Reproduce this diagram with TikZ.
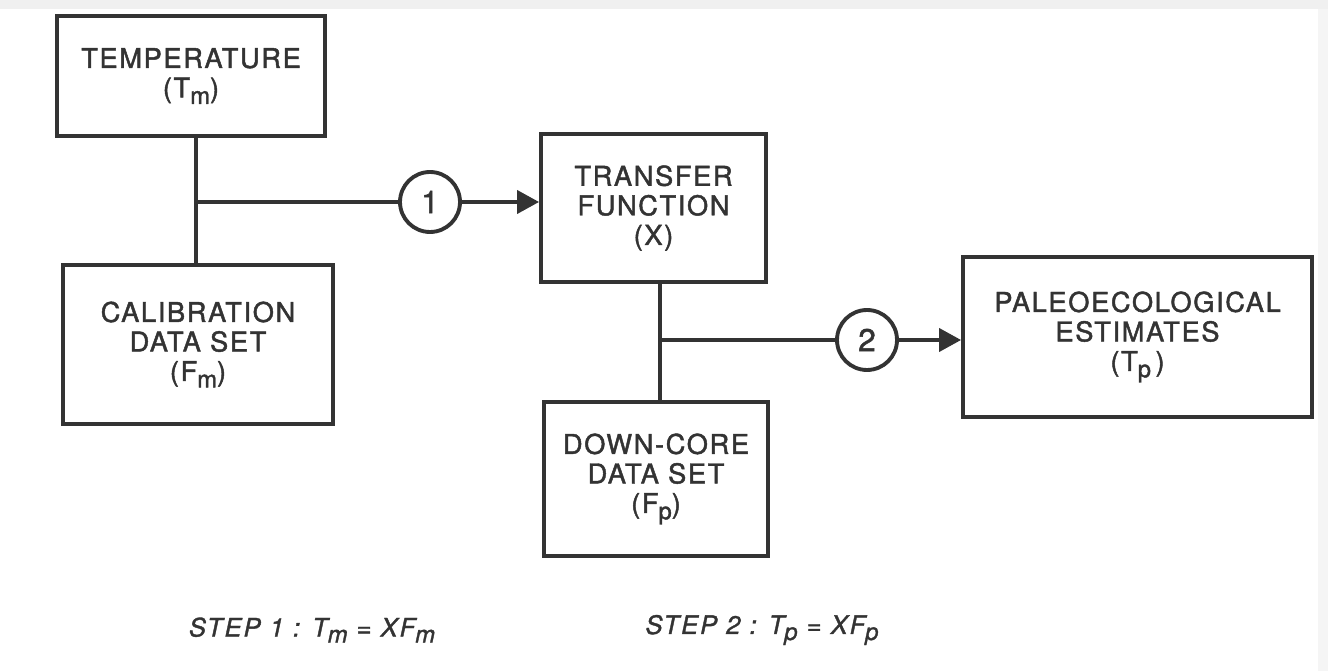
\documentclass[tikz,border=0pt]{standalone}
\usepackage{fontspec}
\setmainfont{TeX Gyre Heros}
\newfontfamily\boxfont{TeX Gyre Heros}[LetterSpace=6, FakeBold=1.6]
\newfontfamily\stepfont{TeX Gyre Heros}[LetterSpace=8, FakeBold=1.4]
\usetikzlibrary{arrows.meta, positioning}

\definecolor{ink}{gray}{0.2}
\newcommand\lowsub[1]{\raisebox{-0.45ex}{\fontsize{13.5}{13.5}\selectfont #1}}

\begin{document}
\begin{tikzpicture}[
    x=0.02cm, y=-0.02cm,
    box/.style={
        rectangle,
        draw=ink,
        line width=2.2pt,
        fill=white,
        text=ink,
        align=center,
        font=\boxfont\fontsize{15.5}{16.8}\selectfont,
        inner sep=2pt
    },
    stepnum/.style={
        circle,
        draw=ink,
        line width=2.2pt,
        fill=white,
        text=ink,
        minimum size=1.2cm,
        font=\boxfont\fontsize{18}{18}\selectfont,
        inner sep=0pt
    },
    link/.style={
        draw=ink,
        line width=2.2pt
    },
    arrow/.style={
        link,
        -{Triangle[length=0.44cm, width=0.46cm]}
    },
    eqn/.style={
        text=ink,
        font=\stepfont\itshape\fontsize{14.5}{16}\selectfont
    }
]
\useasboundingbox (0,0) rectangle (1328,671);
\fill[gray!12] (0,0) rectangle (1328,9);
\fill[gray!8] (1318,9) rectangle (1328,671);

% boxes
\node[box, minimum width=5.36cm, minimum height=2.4cm] (temp) at (191,76)
    {TEMPERATURE\\(T\lowsub{m})};
\node[box, minimum width=5.4cm, minimum height=3.18cm] (calib) at (198,344.5)
    {CALIBRATION\\DATA SET\\(F\lowsub{m})};
\node[box, minimum width=4.5cm, minimum height=2.96cm] (transfer) at (653.5,208)
    {TRANSFER\\FUNCTION\\(X)};
\node[box, minimum width=4.48cm, minimum height=3.08cm] (downcore) at (656,479)
    {DOWN-CORE\\DATA SET\\(F\lowsub{p})};
\node[box, minimum width=6.98cm, minimum height=3.2cm] (paleo) at (1137.5,337)
    {PALEOECOLOGICAL\\ESTIMATES\\(T\lowsub{p}\,)};

% numbered steps
\node[stepnum] (c1) at (430,202) {1};
\node[stepnum] (c2) at (867,340) {2};

\coordinate (j1) at (196,202);
\coordinate (j2) at (660,340);

% connectors
\draw[link] (temp.south -| j1) -- (calib.north -| j1);
\draw[link] (j1) -- (c1);
\draw[arrow] (c1) -- (c1 -| transfer.west);

\draw[link] (transfer.south -| j2) -- (downcore.north -| j2);
\draw[link] (j2) -- (c2);
\draw[arrow] (c2) -- (c2 -| paleo.west);

% equations
\node[eqn] (step1) at (312,630) {STEP 1 : T\lowsub{m} = XF\lowsub{m}};
\node[eqn] (step2) at (762,630) {STEP 2 : T\lowsub{p} = XF\lowsub{p}};

\end{tikzpicture}
\end{document}
